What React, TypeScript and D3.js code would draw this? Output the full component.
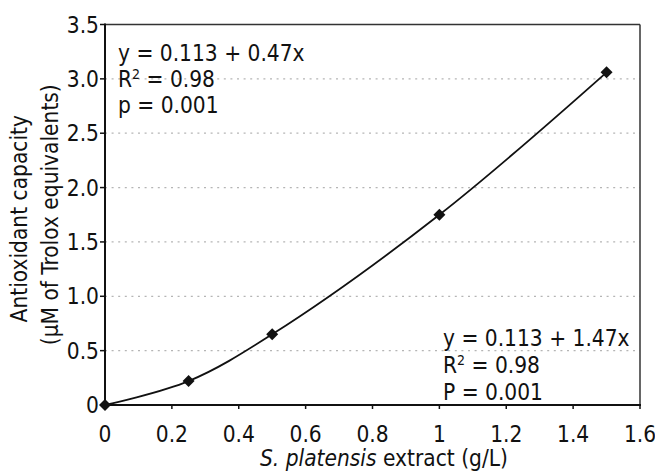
import React from "react";
import * as d3 from "d3";

const xValues = [0, 0.25, 0.5, 1.0, 1.5];
const yValues = [0, 0.22, 0.65, 1.75, 3.06];
const xTicks = [0, 0.2, 0.4, 0.6, 0.8, 1.0, 1.2, 1.4, 1.6];
const xTickLabels = ["0", "0.2", "0.4", "0.6", "0.8", "1", "1.2", "1.4", "1.6"];
const yTicks = [0, 0.5, 1.0, 1.5, 2.0, 2.5, 3.0, 3.5];
const yTickLabels = ["0", "0.5", "1.0", "1.5", "2.0", "2.5", "3.0", "3.5"];
const topNote = ["y = 0.113 + 0.47x", "R", " = 0.98", "p = 0.001"];
const bottomNote = ["y = 0.113 + 1.47x", "R", " = 0.98", "P = 0.001"];

const W = 655;
const H = 472;
const left = 105;
const right = 640;
const top = 24.5;
const bottom = 405;
const FONT = "'DejaVu Sans Condensed', 'Open Sans', sans-serif";
const FS = 22.5;

export default function App() {
  const x = d3.scaleLinear().domain([0, 1.6]).range([left, right]);
  const y = d3.scaleLinear().domain([0, 3.5]).range([bottom, top]);
  const pts: [number, number][] = xValues.map((v, i) => [v, yValues[i]]);
  const line = d3
    .line<[number, number]>()
    .x((d) => x(d[0]))
    .y((d) => y(d[1]))
    .curve(d3.curveCatmullRom.alpha(0.5));
  const diamond = d3.symbol().type(d3.symbolSquare).size(72)();

  const note = (lines: string[], lx: number, b0: number, step: number) => (
    <g fontFamily={FONT} fontSize={FS} fill="#111">
      <text x={lx} y={b0}>{lines[0]}</text>
      <text x={lx} y={b0 + step}>
        {lines[1]}
        <tspan fontSize={14} dy={-8}>2</tspan>
        <tspan dy={8}>{lines[2]}</tspan>
      </text>
      <text x={lx} y={b0 + step * 2}>{lines[3]}</text>
    </g>
  );

  return (
    <svg
      width={W}
      height={H}
      style={{ position: "absolute", left: 0, top: 0, background: "#fff" }}
    >
      {yTicks
        .filter((t) => t > 0 && t < 3.5)
        .map((t) => (
          <line
            key={"g" + t}
            x1={left}
            x2={right}
            y1={y(t)}
            y2={y(t)}
            stroke="#b5b5b5"
            strokeWidth={1.3}
            strokeDasharray="2 4.6"
          />
        ))}
      <line x1={left} x2={right} y1={top} y2={top} stroke="#333" strokeWidth={1.5} />
      <line x1={right} x2={right} y1={top} y2={bottom} stroke="#333" strokeWidth={1.5} />
      <line x1={left} x2={left} y1={top - 1} y2={bottom + 1} stroke="#111" strokeWidth={2} />
      <line x1={left - 1} x2={right + 1} y1={bottom} y2={bottom} stroke="#111" strokeWidth={2} />
      {yTicks.map((t) => (
        <line key={"yt" + t} x1={left - 5} x2={left} y1={y(t)} y2={y(t)} stroke="#111" strokeWidth={1.5} />
      ))}
      {xTicks.map((t) => (
        <line key={"xt" + t} x1={x(t)} x2={x(t)} y1={bottom} y2={bottom + 4} stroke="#111" strokeWidth={1.5} />
      ))}
      <g fontFamily={FONT} fontSize={FS} fill="#111">
        {yTicks.map((t, i) => (
          <text key={"yl" + t} x={left - 6} y={y(t)} dy="0.36em" textAnchor="end">
            {yTickLabels[i]}
          </text>
        ))}
        {xTicks.map((t, i) => (
          <text key={"xl" + t} x={x(t)} y={442} textAnchor="middle">
            {xTickLabels[i]}
          </text>
        ))}
        <text x={260} y={466}>
          <tspan fontStyle="italic">S. platensis</tspan> extract (g/L)
        </text>
        <text transform={`translate(27, ${(top + bottom) / 2 + 4}) rotate(-90)`} textAnchor="middle">
          Antioxidant capacity
        </text>
        <text transform={`translate(58, ${(top + bottom) / 2}) rotate(-90)`} textAnchor="middle">
          (µM of Trolox equivalents)
        </text>
      </g>
      <path d={line(pts) || ""} fill="none" stroke="#111" strokeWidth={1.8} />
      {pts.map((p, i) => (
        <path
          key={"m" + i}
          d={diamond || ""}
          transform={`translate(${x(p[0])},${y(p[1])}) rotate(45)`}
          fill="#111"
        />
      ))}
      {note(topNote, 118, 61, 26)}
      {note(bottomNote, 443, 346, 27)}
    </svg>
  );
}
